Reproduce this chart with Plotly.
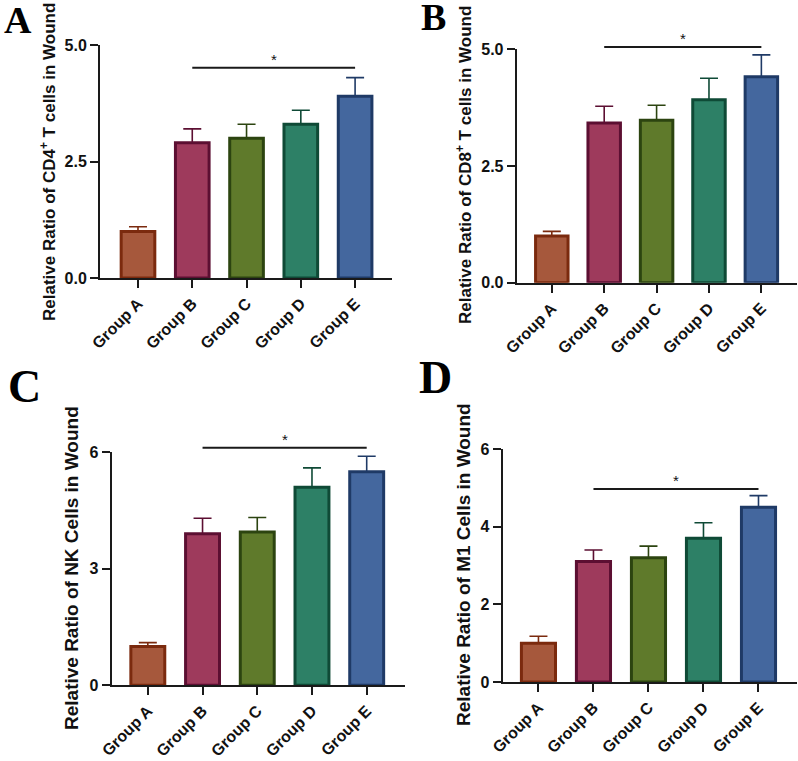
import plotly.graph_objects as go

groups = ["Group A", "Group B", "Group C", "Group D", "Group E"]

cd4_mean = [1.0, 2.9, 3.0, 3.3, 3.9]
cd4_err = [0.1, 0.3, 0.3, 0.3, 0.4]
cd8_mean = [1.0, 3.42, 3.48, 3.92, 4.41]
cd8_err = [0.1, 0.36, 0.32, 0.46, 0.47]
nk_mean = [1.0, 3.9, 3.95, 5.1, 5.5]
nk_err = [0.1, 0.4, 0.37, 0.5, 0.4]
m1_mean = [1.0, 3.1, 3.2, 3.7, 4.5]
m1_err = [0.18, 0.3, 0.3, 0.4, 0.3]

sig_height = [4.51, 5.05, 6.12, 4.97]
sig_from, sig_to = "Group B", "Group E"

titles = [
    "Relative Ratio of CD4<sup>+</sup> T cells in Wound",
    "Relative Ratio of CD8<sup>+</sup> T cells in Wound",
    "Relative Ratio of NK Cells in Wound",
    "Relative Ratio of M1 Cells in Wound",
]
panel_letters = ["A", "B", "C", "D"]

fills = ["#A6583C", "#9E3A5C", "#5F7A2B", "#2D8066", "#44679E"]
edges = ["#7B2A0E", "#5C0F32", "#2C4410", "#0F4A36", "#1F3A66"]

W, H = 798, 761
SANS = "Liberation Sans, Arial, sans-serif"
SERIF = "Liberation Serif, Times New Roman, serif"
AX = "#1a1a1a"

panels = [
    dict(px=(100, 392, 45, 278), xr=[-0.70, 4.68], yr=[0, 5], tv=[0, 2.5, 5], tt=["0.0", "2.5", "5.0"],
         means=cd4_mean, errs=cd4_err, tx=48, ty=162, ts=17, let=(17.5, 19.5, 38)),
    dict(px=(516.7, 797, 49.3, 282.7), xr=[-0.67, 4.68], yr=[0, 5], tv=[0, 2.5, 5], tt=["0.0", "2.5", "5.0"],
         means=cd8_mean, errs=cd8_err, tx=464, ty=165, ts=17, let=(433, 16.5, 38)),
    dict(px=(111.7, 405, 452.3, 685.3), xr=[-0.66, 4.70], yr=[0, 6], tv=[0, 3, 6], tt=["0", "3", "6"],
         means=nk_mean, errs=nk_err, tx=71, ty=568, ts=19, let=(24, 386, 46)),
    dict(px=(502.7, 797, 449, 682), xr=[-0.65, 4.70], yr=[0, 6], tv=[0, 2, 4, 6], tt=["0", "2", "4", "6"],
         means=m1_mean, errs=m1_err, tx=463, ty=565, ts=19, let=(435, 377.5, 46)),
]

fig = go.Figure()
annotations = []
shapes = []

for i, p in enumerate(panels):
    n = "" if i == 0 else str(i + 1)
    xa, ya = "x" + n, "y" + n
    x0, x1, yt, yb = p["px"]
    for g, m, e, fc, ec in zip(groups, p["means"], p["errs"], fills, edges):
        fig.add_trace(go.Bar(
            x=[g], y=[m], xaxis=xa, yaxis=ya, width=0.62,
            marker=dict(color=fc, line=dict(color=ec, width=3)),
            error_y=dict(type="data", array=[e], arrayminus=[0], symmetric=False,
                         color=ec, thickness=1.6, width=9),
            showlegend=False, cliponaxis=False,
        ))
    fig.layout["xaxis" + n] = dict(
        domain=[x0 / W, x1 / W], anchor=ya, type="category", categoryorder="array",
        categoryarray=groups, range=p["xr"], showline=True, linecolor=AX, linewidth=2,
        ticks="outside", ticklen=8, tickwidth=2, tickcolor=AX, tickangle=-45,
        tickfont=dict(family=SANS, size=16, color="#111", weight="bold"),
        showgrid=False, zeroline=False, fixedrange=True, automargin=False,
    )
    fig.layout["yaxis" + n] = dict(
        domain=[1 - yb / H, 1 - yt / H], anchor=xa, range=p["yr"], showline=True,
        linecolor=AX, linewidth=2, ticks="outside", ticklen=8, tickwidth=2, tickcolor=AX,
        tickvals=p["tv"], ticktext=p["tt"],
        tickfont=dict(family=SANS, size=16, color="#111", weight="bold"), showgrid=False,
        zeroline=False, fixedrange=True, automargin=False,
    )
    r0, r1 = p["yr"]
    frac = (sig_height[i] - r0) / (r1 - r0)
    shapes.append(dict(type="line", xref=xa, yref=ya + " domain", x0=sig_from, x1=sig_to,
                       y0=frac, y1=frac, line=dict(color="#1a1a1a", width=2)))
    annotations.append(dict(xref=xa, yref=ya + " domain", x=2.5, y=frac, text="*", showarrow=False,
                            yanchor="bottom", font=dict(family=SANS, size=15, color="#111"), yshift=-2))
    annotations.append(dict(xref="paper", yref="paper", x=p["tx"] / W, y=1 - p["ty"] / H,
                            text=titles[i], textangle=-90, showarrow=False, xanchor="center",
                            yanchor="middle", font=dict(family=SANS, size=p["ts"], color="#111", weight="bold")))
    lx, ly, ls = p["let"]
    annotations.append(dict(xref="paper", yref="paper", x=lx / W, y=1 - ly / H, text=panel_letters[i],
                            showarrow=False, xanchor="center", yanchor="middle",
                            font=dict(family=SERIF, size=ls, color="#000", weight="bold")))

fig.update_layout(
    width=W, height=H, margin=dict(l=0, r=0, t=0, b=0, autoexpand=False), barmode="overlay",
    paper_bgcolor="white", plot_bgcolor="white", annotations=annotations, shapes=shapes,
)

fig.write_html("out.html", config={"displayModeBar": False},
               post_script="document.body.style.margin='0';document.body.style.overflow='hidden';")
